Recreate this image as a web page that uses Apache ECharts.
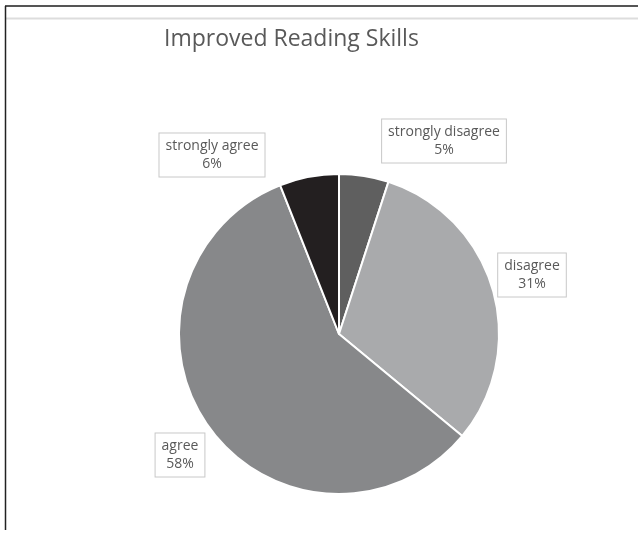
<!DOCTYPE html>
<html>
<head>
<meta charset="utf-8">
<script src="https://cdn.jsdelivr.net/npm/echarts@6/dist/echarts.min.js"></script>
<style>
  html, body { margin: 0; padding: 0; background: #fff; }
  #root { width: 638px; height: 533px; }
</style>
</head>
<body>
<div id="root"></div>
<script>
// slices clockwise from 12 o'clock
const categories = ['strongly disagree', 'disagree', 'agree', 'strongly agree'];
const values = [5, 31, 58, 6];
const colors = ['#5f5f5f', '#a9aaac', '#87888a', '#231f20'];
// label box centres
const labelPos = [[444, 141], [532, 275], [180, 455], [212, 155]];

let root = document.getElementById('root');
let myChart = echarts.init(root);

let option = {
  backgroundColor: '#fff',
  animation: false,
  title: {
    text: 'Improved Reading Skills',
    left: 159,
    top: 23,
    textStyle: {
      fontFamily: 'Open Sans',
      fontWeight: 'normal',
      fontSize: 23,
      color: '#595959'
    }
  },
  graphic: [
    { type: 'line', shape: { x1: 5, y1: 6, x2: 638, y2: 6 }, style: { stroke: '#555', lineWidth: 2 } },
    { type: 'line', shape: { x1: 6, y1: 18.5, x2: 638, y2: 18.5 }, style: { stroke: '#ddd', lineWidth: 2 } },
    { type: 'line', shape: { x1: 5.5, y1: 6, x2: 5.5, y2: 530 }, style: { stroke: '#222', lineWidth: 1.5 } }
  ],
  series: [
    {
      type: 'pie',
      center: [339, 334],
      radius: [0, 160],
      startAngle: 90,
      clockwise: true,
      data: categories.map((c, i) => ({
        name: c,
        value: values[i],
        itemStyle: { color: colors[i] }
      })),
      itemStyle: { borderColor: '#fff', borderWidth: 2 },
      label: {
        show: true,
        position: 'outside',
        formatter: '{b}\n{d}%',
        fontFamily: 'Open Sans',
        fontSize: 14,
        lineHeight: 18,
        color: '#595959',
        backgroundColor: '#fff',
        borderColor: '#c8c8c8',
        borderWidth: 1,
        padding: [4, 6, 3, 6],
        align: 'center'
      },
      labelLine: { show: false },
      labelLayout: function (params) {
        const p = labelPos[params.dataIndex];
        return { x: p[0], y: p[1], align: 'center', verticalAlign: 'middle' };
      },
      emphasis: { disabled: true }
    }
  ]
};
myChart.setOption(option);
</script>
</body>
</html>
